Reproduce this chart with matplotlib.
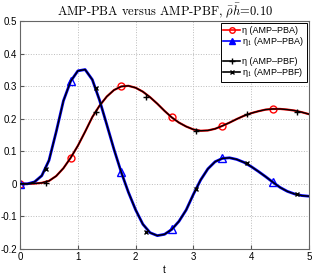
import matplotlib
matplotlib.use("Agg")
import matplotlib.pyplot as plt
from matplotlib.lines import Line2D
import numpy as np

plt.rcParams['font.family'] = ['Liberation Sans', 'DejaVu Sans']
plt.rcParams['mathtext.fontset'] = 'cm'

# time grid (step 0.125)
t = np.arange(41) * 0.125

# eta
eta = [0.000, 0.000, 0.001, 0.003, 0.009, 0.024, 0.048, 0.080, 0.117, 0.160,
       0.205, 0.240, 0.268, 0.288, 0.299, 0.301, 0.295, 0.283, 0.266, 0.246,
       0.224, 0.204, 0.188, 0.176, 0.167, 0.163, 0.164, 0.169, 0.178, 0.188,
       0.199, 0.209, 0.217, 0.223, 0.228, 0.230, 0.230, 0.228, 0.225, 0.220,
       0.214]

# eta_1
eta1 = [0.000, 0.000, 0.006, 0.025, 0.072, 0.160, 0.255, 0.315, 0.347, 0.351,
        0.320, 0.257, 0.182, 0.106, 0.036, -0.026, -0.080, -0.124, -0.150, -0.159,
        -0.155, -0.140, -0.115, -0.080, -0.032, 0.012, 0.046, 0.068, 0.078, 0.080,
        0.075, 0.066, 0.053, 0.038, 0.022, 0.005, -0.011, -0.023, -0.031, -0.036,
        -0.038]

# marker positions of the AMP-PBF curves
t_pbf = [0.44, 1.31, 2.18, 3.05, 3.92, 4.79]
eta_pbf = [0.003, 0.222, 0.268, 0.163, 0.215, 0.221]
eta1_pbf = [0.045, 0.293, -0.148, -0.016, 0.064, -0.031]

fig = plt.figure(figsize=(3.14, 2.73), dpi=100)
ax = fig.add_axes([0.064, 0.088, 0.920, 0.835])

ax.plot(t, eta, color='red', lw=1.6, marker='o', mfc='none', mec='red',
        ms=5, mew=1.0, markevery=7, zorder=2)
ax.plot(t, eta1, color='blue', lw=2.0, marker='^', mfc='none', mec='blue',
        ms=5.5, mew=1.0, markevery=7, zorder=2)
ax.plot(t, eta, color='black', lw=1.0, zorder=3)
ax.plot(t, eta1, color='black', lw=1.0, zorder=3)
ax.plot(t_pbf, eta_pbf, ls='none', marker='+', color='black', ms=5, mew=1.0, zorder=4)
ax.plot(t_pbf, eta1_pbf, ls='none', marker='x', color='black', ms=3.5, mew=1.0, zorder=4)

ax.set_xlim(0, 5)
ax.set_ylim(-0.2, 0.5)
ax.set_xticks([0, 1, 2, 3, 4, 5])
yt = [-0.2, -0.1, 0, 0.1, 0.2, 0.3, 0.4, 0.5]
ax.set_yticks(yt)
ax.set_yticklabels(['-0.2', '-0.1', '0', '0.1', '0.2', '0.3', '0.4', '0.5'])
ax.tick_params(direction='in', length=3, labelsize=7, pad=2, color='#555555')
ax.grid(True, ls=':', color='#bbbbbb', lw=0.7)
for s in ax.spines.values():
    s.set_color('#666666')
    s.set_linewidth(0.8)

ax.set_xlabel('t', fontsize=7, labelpad=2)
ax.set_title(r'AMP-PBA versus AMP-PBF, $\bar{\rho}\bar{h}$=0.10',
             fontfamily='cmr10', fontsize=9, pad=4)

handles = [
    Line2D([], [], color='red', lw=1.2, marker='o', mfc='none', ms=4),
    Line2D([], [], color='blue', lw=1.2, marker='^', mfc='blue', ms=4),
    Line2D([], [], color='none'),
    Line2D([], [], color='black', lw=1.2, marker='+', ms=4),
    Line2D([], [], color='black', lw=1.2, marker='x', ms=2.5),
]
labels = ['\u03b7 (AMP\u2013PBA)', '\u03b7$_1$ (AMP\u2013PBA)', '',
          '\u03b7 (AMP\u2013PBF)', '\u03b7$_1$ (AMP\u2013PBF)']
leg = ax.legend(handles, labels, loc='upper right', fontsize=6.5, frameon=True,
                fancybox=False, edgecolor='black', framealpha=1,
                handlelength=1.8, handletextpad=0.3, labelspacing=0.0,
                borderpad=0.3, borderaxespad=0.25)
leg.get_frame().set_linewidth(0.7)

fig.savefig('out.png', dpi=100)
